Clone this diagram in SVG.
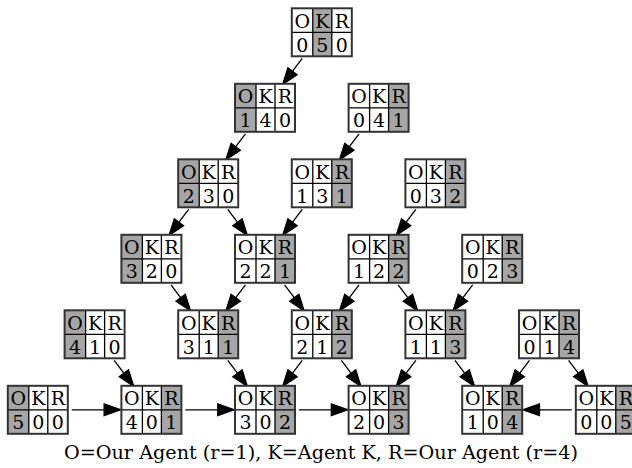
<svg xmlns="http://www.w3.org/2000/svg" xmlns:xlink="http://www.w3.org/1999/xlink" width="632" height="468" viewBox="0 0 632 468">
  <style>
    .bg{fill:#fff}
    .hi{fill:#a6a6a6}
    .grid{fill:none;stroke:#000;stroke-width:1.3}
    .frame{fill:none;stroke:#333;stroke-width:2}
    text{font-family:"DejaVu Serif","Liberation Serif",serif;font-size:19px;text-anchor:middle;fill:#000}
    #caption{font-size:19.2px}
    .edge{fill:none;stroke:#000;stroke-width:1.33;marker-end:url(#head)}
  </style>
  <defs>
    <marker id="head" markerUnits="userSpaceOnUse" orient="auto" refX="0" refY="0" markerWidth="20" markerHeight="20" viewBox="-1 -6 16 12" overflow="visible">
      <path d="M0,-4.67 L13.3,0 L0,4.67 Z" fill="#000" stroke="#000" stroke-width="1"/>
    </marker>
    <!-- 3x2 table: columns O | K | R, header row with letters -->
    <g id="table">
      <path class="grid" d="M21,0V48M40,0V48M0,24H60"/>
      <rect class="frame" width="60" height="48"/>
      <text x="10.5" y="19.5">O</text>
      <text x="30.5" y="19.5">K</text>
      <text x="50" y="19.5">R</text>
    </g>
    <rect id="bg" class="bg" width="60" height="48"/>
    <rect id="shO" class="hi" x="0" width="21" height="48"/>
    <rect id="shK" class="hi" x="21" width="19" height="48"/>
    <rect id="shR" class="hi" x="40" width="20" height="48"/>
  </defs>

  <!-- connectors -->
  <g id="edges">
    <line class="edge" x1="302.24" y1="58.3" x2="292.56" y2="71.17"/>
    <line class="edge" x1="245.44" y1="133.8" x2="235.76" y2="146.67"/>
    <line class="edge" x1="359.04" y1="133.8" x2="349.36" y2="146.67"/>
    <line class="edge" x1="188.64" y1="209.3" x2="178.96" y2="222.17"/>
    <line class="edge" x1="227.76" y1="209.3" x2="237.44" y2="222.17"/>
    <line class="edge" x1="302.24" y1="209.3" x2="292.56" y2="222.17"/>
    <line class="edge" x1="415.84" y1="209.3" x2="406.16" y2="222.17"/>
    <line class="edge" x1="170.96" y1="284.8" x2="180.64" y2="297.67"/>
    <line class="edge" x1="245.44" y1="284.8" x2="235.76" y2="297.67"/>
    <line class="edge" x1="284.56" y1="284.8" x2="294.24" y2="297.67"/>
    <line class="edge" x1="359.04" y1="284.8" x2="349.36" y2="297.67"/>
    <line class="edge" x1="398.16" y1="284.8" x2="407.84" y2="297.67"/>
    <line class="edge" x1="472.64" y1="284.8" x2="462.96" y2="297.67"/>
    <line class="edge" x1="114.16" y1="360.3" x2="123.84" y2="373.17"/>
    <line class="edge" x1="227.76" y1="360.3" x2="237.44" y2="373.17"/>
    <line class="edge" x1="302.24" y1="360.3" x2="292.56" y2="373.17"/>
    <line class="edge" x1="341.36" y1="360.3" x2="351.04" y2="373.17"/>
    <line class="edge" x1="415.84" y1="360.3" x2="406.16" y2="373.17"/>
    <line class="edge" x1="454.96" y1="360.3" x2="464.64" y2="373.17"/>
    <line class="edge" x1="529.44" y1="360.3" x2="519.76" y2="373.17"/>
    <line class="edge" x1="568.56" y1="360.3" x2="578.24" y2="373.17"/>
    <line class="edge" x1="71.8" y1="409.8" x2="104.1" y2="409.8"/>
    <line class="edge" x1="185.4" y1="409.8" x2="217.7" y2="409.8"/>
    <line class="edge" x1="299" y1="409.8" x2="331.3" y2="409.8"/>
    <line class="edge" x1="571.8" y1="409.8" x2="539.5" y2="409.8"/>
  </g>

  <!-- states -->
  <g id="n050" transform="translate(291.8,8.3)"><use xlink:href="#bg"/><use xlink:href="#shK"/><use xlink:href="#table"/><text x="10.5" y="43.5">0</text><text x="30.5" y="43.5">5</text><text x="50" y="43.5">0</text></g>

  <g id="n140" transform="translate(235,83.8)"><use xlink:href="#bg"/><use xlink:href="#shO"/><use xlink:href="#table"/><text x="10.5" y="43.5">1</text><text x="30.5" y="43.5">4</text><text x="50" y="43.5">0</text></g>
  <g id="n041" transform="translate(348.6,83.8)"><use xlink:href="#bg"/><use xlink:href="#shR"/><use xlink:href="#table"/><text x="10.5" y="43.5">0</text><text x="30.5" y="43.5">4</text><text x="50" y="43.5">1</text></g>

  <g id="n230" transform="translate(178.2,159.3)"><use xlink:href="#bg"/><use xlink:href="#shO"/><use xlink:href="#table"/><text x="10.5" y="43.5">2</text><text x="30.5" y="43.5">3</text><text x="50" y="43.5">0</text></g>
  <g id="n131" transform="translate(291.8,159.3)"><use xlink:href="#bg"/><use xlink:href="#shR"/><use xlink:href="#table"/><text x="10.5" y="43.5">1</text><text x="30.5" y="43.5">3</text><text x="50" y="43.5">1</text></g>
  <g id="n032" transform="translate(405.4,159.3)"><use xlink:href="#bg"/><use xlink:href="#shR"/><use xlink:href="#table"/><text x="10.5" y="43.5">0</text><text x="30.5" y="43.5">3</text><text x="50" y="43.5">2</text></g>

  <g id="n320" transform="translate(121.4,234.8)"><use xlink:href="#bg"/><use xlink:href="#shO"/><use xlink:href="#table"/><text x="10.5" y="43.5">3</text><text x="30.5" y="43.5">2</text><text x="50" y="43.5">0</text></g>
  <g id="n221" transform="translate(235,234.8)"><use xlink:href="#bg"/><use xlink:href="#shR"/><use xlink:href="#table"/><text x="10.5" y="43.5">2</text><text x="30.5" y="43.5">2</text><text x="50" y="43.5">1</text></g>
  <g id="n122" transform="translate(348.6,234.8)"><use xlink:href="#bg"/><use xlink:href="#shR"/><use xlink:href="#table"/><text x="10.5" y="43.5">1</text><text x="30.5" y="43.5">2</text><text x="50" y="43.5">2</text></g>
  <g id="n023" transform="translate(462.2,234.8)"><use xlink:href="#bg"/><use xlink:href="#shR"/><use xlink:href="#table"/><text x="10.5" y="43.5">0</text><text x="30.5" y="43.5">2</text><text x="50" y="43.5">3</text></g>

  <g id="n410" transform="translate(64.6,310.3)"><use xlink:href="#bg"/><use xlink:href="#shO"/><use xlink:href="#table"/><text x="10.5" y="43.5">4</text><text x="30.5" y="43.5">1</text><text x="50" y="43.5">0</text></g>
  <g id="n311" transform="translate(178.2,310.3)"><use xlink:href="#bg"/><use xlink:href="#shR"/><use xlink:href="#table"/><text x="10.5" y="43.5">3</text><text x="30.5" y="43.5">1</text><text x="50" y="43.5">1</text></g>
  <g id="n212" transform="translate(291.8,310.3)"><use xlink:href="#bg"/><use xlink:href="#shR"/><use xlink:href="#table"/><text x="10.5" y="43.5">2</text><text x="30.5" y="43.5">1</text><text x="50" y="43.5">2</text></g>
  <g id="n113" transform="translate(405.4,310.3)"><use xlink:href="#bg"/><use xlink:href="#shR"/><use xlink:href="#table"/><text x="10.5" y="43.5">1</text><text x="30.5" y="43.5">1</text><text x="50" y="43.5">3</text></g>
  <g id="n014" transform="translate(519,310.3)"><use xlink:href="#bg"/><use xlink:href="#shR"/><use xlink:href="#table"/><text x="10.5" y="43.5">0</text><text x="30.5" y="43.5">1</text><text x="50" y="43.5">4</text></g>

  <g id="n500" transform="translate(7.8,385.8)"><use xlink:href="#bg"/><use xlink:href="#shO"/><use xlink:href="#table"/><text x="10.5" y="43.5">5</text><text x="30.5" y="43.5">0</text><text x="50" y="43.5">0</text></g>
  <g id="n401" transform="translate(121.4,385.8)"><use xlink:href="#bg"/><use xlink:href="#shR"/><use xlink:href="#table"/><text x="10.5" y="43.5">4</text><text x="30.5" y="43.5">0</text><text x="50" y="43.5">1</text></g>
  <g id="n302" transform="translate(235,385.8)"><use xlink:href="#bg"/><use xlink:href="#shR"/><use xlink:href="#table"/><text x="10.5" y="43.5">3</text><text x="30.5" y="43.5">0</text><text x="50" y="43.5">2</text></g>
  <g id="n203" transform="translate(348.6,385.8)"><use xlink:href="#bg"/><use xlink:href="#shR"/><use xlink:href="#table"/><text x="10.5" y="43.5">2</text><text x="30.5" y="43.5">0</text><text x="50" y="43.5">3</text></g>
  <g id="n104" transform="translate(462.2,385.8)"><use xlink:href="#bg"/><use xlink:href="#shR"/><use xlink:href="#table"/><text x="10.5" y="43.5">1</text><text x="30.5" y="43.5">0</text><text x="50" y="43.5">4</text></g>
  <g id="n005" transform="translate(575.8,385.8)"><use xlink:href="#bg"/><use xlink:href="#shR"/><use xlink:href="#table"/><text x="10.5" y="43.5">0</text><text x="30.5" y="43.5">0</text><text x="50" y="43.5">5</text></g>

  <text id="caption" x="321" y="458.5">O=Our Agent (r=1), K=Agent K, R=Our Agent (r=4)</text>
</svg>
